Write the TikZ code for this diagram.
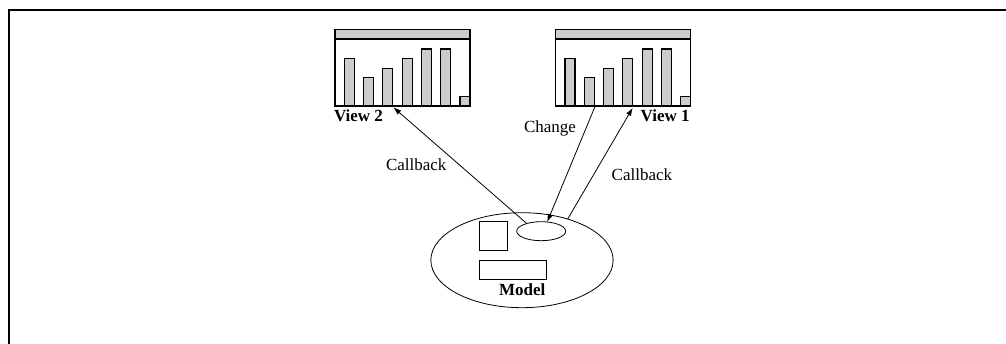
\documentclass[tikz,border=0pt]{standalone}
\usepackage{fontspec}
\setmainfont{Liberation Serif}
\usetikzlibrary{shapes.geometric,arrows.meta,calc}
\definecolor{barg}{gray}{0.8}
\begin{document}
\begin{tikzpicture}[x=1pt,y=-1pt,
  every node/.style={inner sep=0pt,outer sep=0pt},
  lbl/.style={font=\fontsize{17}{20}\selectfont, anchor=base west},
  blbl/.style={font=\fontsize{17}{20}\selectfont\bfseries, anchor=base west},
  win/.style={draw, line width=1.2pt, minimum width=135pt, minimum height=76.7pt, anchor=north west},
  barbox/.style={draw, line width=1.1pt, fill=barg},
  link/.style={line width=0.8pt, -{Latex[length=8pt,width=5.5pt]}},
  thin/.style={draw, line width=0.8pt}
]
\useasboundingbox (0,0) rectangle (1006,344);

% open frame: top and left edges only
\draw[line width=2pt] (8.7,344) -- (8.7,10.2) -- (1006,10.2);

% a chart window: title bar and seven bars
\newcommand\chartbars[1]{%
  \begin{scope}[shift={(#1.north west)}]
    \draw[barbox] (0,0) rectangle (135,9.7);
    \foreach \i/\h in {0/29,1/48.4,2/39,3/29,4/19.7,5/19.7}
      \draw[barbox] (9.3+19.3*\i,76.7) rectangle (19.3+19.3*\i,\h);
    \draw[barbox] (125,76.7) rectangle (135,67.4);
    \draw[line width=1.2pt] (#1.north west) rectangle (#1.south east);
  \end{scope}}

\node[win] (v2) at (335,29.3) {};
\chartbars{v2}
\node[win] (v1) at (555.7,29.3) {};
\chartbars{v1}

% model
\node[thin, ellipse, minimum width=182.3pt, minimum height=95pt] (model) at (522,260.2) {};
\node[thin, ellipse, minimum width=49pt, minimum height=19pt] (slot) at (541.2,231.2) {};
\node[thin, rectangle, minimum width=28.7pt, minimum height=29pt] (sq) at (493.4,236.2) {};
\node[thin, rectangle, minimum width=67pt, minimum height=19.3pt] (bar) at (512.5,269.7) {};

% labels
\node[blbl] (t2) at (334,121.7) {View 2};
\node[blbl] (t1) at (640.7,121.7) {View 1};
\node[blbl] (tm) at (499,296) {Model};
\node[lbl] (tch) at (524,132.5) {Change};
\node[lbl] (tcb2) at (386,171) {Callback};
\node[lbl] (tcb1) at (611.7,181) {Callback};

% connectors
\coordinate (v2in) at ($(v2.south west)+(58.3,1.3)$);
\coordinate (v1out) at ($(v1.south west)+(39.3,0.5)$);
\coordinate (v1in) at ($(v1.south west)+(77,1.8)$);
\draw[link] (slot.152) -- (v2in);
\draw[link] (v1out) -- (slot.57);
\draw[link] (model.42) -- (v1in);
\end{tikzpicture}
\end{document}
